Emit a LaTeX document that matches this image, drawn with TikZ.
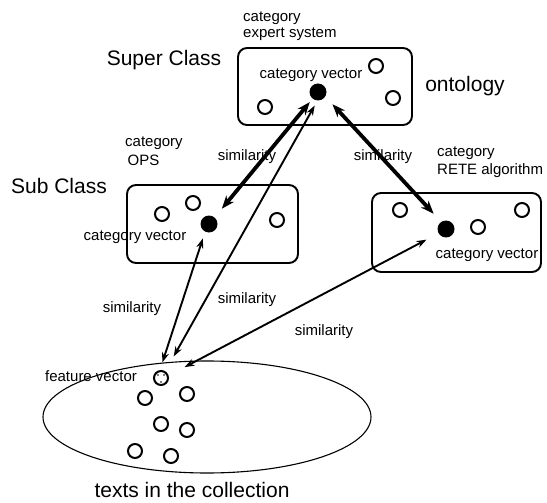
\documentclass[tikz,border=0pt]{standalone}
\usepackage{fontspec}
\setmainfont{Liberation Sans}
\usetikzlibrary{arrows.meta}
\begin{document}
\begin{tikzpicture}[x=1pt,y=-1pt,
	small/.style={font=\fontsize{15}{16}\selectfont, inner sep=0pt},
	big/.style={font=\fontsize{21}{24}\selectfont, inner sep=0pt},
	catbox/.style={line width=1.9pt, rounded corners=9pt},
	catdot/.style={circle, fill=black, inner sep=0pt, minimum size=17pt},
	ring/.style={circle, draw, line width=2pt, inner sep=0pt, minimum size=14pt},
	simthick/.style={{Stealth[length=13pt,width=10pt]}-{Stealth[length=13pt,width=10pt]}, line width=3.8pt},
	simthin/.style={{Stealth[length=10pt,width=7pt]}-{Stealth[length=10pt,width=7pt]}, line width=1.9pt}]
	\useasboundingbox (0,0) rectangle (547,503);
	%\draw[help lines, color=gray!30] (0,0) grid[step=50] (547,503);
	% boxes and collection
	\draw[catbox] (238,48) rectangle (412,125);
	\draw[catbox] (127,185) rectangle (298,263);
	\draw[catbox] (372,193) rectangle (541,272);
	\draw[line width=1.1pt] (207,417) ellipse [x radius=164pt, y radius=56pt];
	% category vectors
	\node[catdot] (sup) at (318,92) {};
	\node[catdot] (ops) at (209,224) {};
	\node[catdot] (rete) at (446,229) {};
	\node[ring] (s1) at (265,107) {};
	\node[ring] (s2) at (376,66) {};
	\node[ring] (s3) at (393,98) {};
	\node[ring] (o1) at (162,214) {};
	\node[ring] (o2) at (193,203) {};
	\node[ring] (o3) at (277,220) {};
	\node[ring] (r1) at (400,210) {};
	\node[ring] (r2) at (478,227) {};
	\node[ring] (r3) at (522,210) {};
	% texts
	\node[ring] (fv) at (161,378) {};
	\fill (158,375) circle (0.8pt) (164,375) circle (0.8pt) (161,382) circle (0.8pt);
	\node[ring] (t1) at (145,398) {};
	\node[ring] (t2) at (187,394) {};
	\node[ring] (t3) at (161,424) {};
	\node[ring] (t4) at (187,430) {};
	\node[ring] (t5) at (135,451) {};
	\node[ring] (t6) at (171,456) {};
	% labels
	\node[big] (superlbl) at (164,60) {Super Class};
	\node[big] (sublbl) at (59,186) {Sub Class};
	\node[big] (ontolbl) at (465,86) {ontology};
	\node[big] (textslbl) at (192,490) {texts in the collection};
	\node[small, anchor=north west, align=left] (supcat) at (243,12) {category\\expert system};
	\node[small, anchor=north west, align=left] (opscat) at (125,137) {category\\[3pt]\,OPS};
	\node[small, anchor=north west, align=left] (retecat) at (437,147) {category\\[2pt]RETE algorithm};
	\node[small] (supvec) at (311,75) {category vector};
	\node[small] (opsvec) at (135,237) {category vector};
	\node[small] (retevec) at (487,255) {category vector};
	\node[small] (fvlbl) at (91,376) {feature vector};
	\node[small] (sim1) at (247,157) {similarity};
	\node[small] (sim2) at (383,157) {similarity};
	\node[small] (sim3) at (132,309) {similarity};
	\node[small] (sim4) at (247,300) {similarity};
	\node[small] (sim5) at (324,332) {similarity};
	% similarity arrows
	\draw[simthick, shorten <=4.3pt, shorten >=11.3pt] (sup.-129) -- (ops.49);
	\draw[simthick, shorten <=10.4pt, shorten >=11pt] (sup.-32) -- (rete.124);
	\draw[simthin, shorten <=5.5pt, shorten >=17pt] (sup.-94) -- (fv.57);
	\draw[simthin, shorten <=7pt, shorten >=8pt] (ops.-117) -- (fv.98);
	\draw[simthin, shorten <=13.5pt, shorten >=18pt] (rete.-150) -- (fv.18);
\end{tikzpicture}
\end{document}
